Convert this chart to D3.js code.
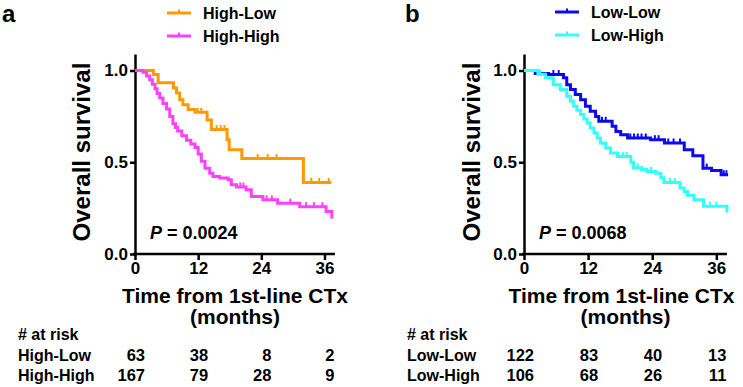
<!DOCTYPE html>
<html lang="en">
<head>
<meta charset="UTF-8">
<title>Overall survival by group</title>
<script src="https://cdn.jsdelivr.net/npm/d3@7"></script>
<style>
    body{ margin:0; background:#fff; }
    svg text{ font-family:"Liberation Sans", Arial, sans-serif; font-weight:bold; fill:#000; }
</style>
</head>
<body>
<svg id="chart" width="743" height="387"></svg>
<script>
// ---- data ----
const xTicks = [0, 12, 24, 36]
const yTicks = [0, 0.5, 1.0]

// panel a
const hlTime = [0, 3.5, 4.4, 7.3, 7.9, 8.5, 9.1, 10.1, 11.4, 13.7, 14.5, 17.5, 17.9, 20.3, 32.0, 37.3]
const hlSurv = [1, 0.978, 0.933, 0.905, 0.878, 0.84, 0.814, 0.787, 0.772, 0.73, 0.678, 0.623, 0.568, 0.52, 0.39, 0.39]
const hlCens = [11.9, 12.6, 15.5, 16.3, 17.0, 23.3, 25.2, 26.9, 33.5, 35.0, 36.8]

const hhTime = [0, 1.5, 2.2, 2.8, 3.3, 3.8, 4.2, 4.7, 5.3, 6.0, 6.6, 7.2, 7.7, 8.1, 8.9, 9.8, 10.6, 11.4, 12.0, 12.6, 13.3, 14.2, 14.8, 16.1, 17.7, 18.3, 19.3, 21.1, 22.1, 24.3, 27.1, 31.3, 36.3, 37.4, 37.6]
const hhSurv = [1, 0.99, 0.97, 0.95, 0.925, 0.9, 0.875, 0.85, 0.82, 0.79, 0.75, 0.71, 0.69, 0.67, 0.645, 0.62, 0.60, 0.58, 0.545, 0.505, 0.468, 0.44, 0.422, 0.414, 0.404, 0.377, 0.365, 0.35, 0.313, 0.295, 0.277, 0.258, 0.231, 0.20, 0.20]
const hhCens = [20.0, 20.6, 25.0, 26.0, 29.5, 32.5, 34.0, 35.6]

// panel b
const llTime = [0, 2.1, 4.6, 7.4, 8.0, 8.7, 9.6, 10.6, 11.5, 12.4, 13.4, 14.0, 16.5, 17.2, 18.1, 19.4, 23.7, 26.3, 30.0, 31.6, 33.5, 35.1, 36.9, 38.2]
const llSurv = [1, 0.984, 0.978, 0.96, 0.923, 0.896, 0.869, 0.84, 0.805, 0.778, 0.75, 0.723, 0.696, 0.668, 0.65, 0.632, 0.623, 0.605, 0.568, 0.535, 0.468, 0.455, 0.432, 0.432]
const llCens = [5.5, 6.5, 14.6, 15.3, 19.9, 20.6, 21.3, 22.0, 22.8, 24.5, 25.2, 27.0, 28.0, 29.2, 34.2, 37.4, 37.9]

const lhTime = [0, 2.6, 4.0, 5.5, 6.8, 8.0, 8.7, 9.3, 9.9, 10.6, 11.2, 11.8, 12.4, 13.1, 13.7, 14.3, 15.3, 16.2, 17.5, 20.0, 20.5, 22.0, 23.0, 24.7, 25.6, 26.2, 29.2, 30.0, 30.6, 31.8, 33.6, 38.0, 38.2]
const lhSurv = [1, 0.98, 0.96, 0.923, 0.896, 0.86, 0.832, 0.805, 0.783, 0.76, 0.736, 0.714, 0.687, 0.66, 0.632, 0.605, 0.578, 0.55, 0.532, 0.50, 0.47, 0.46, 0.45, 0.44, 0.415, 0.39, 0.36, 0.34, 0.32, 0.295, 0.26, 0.235, 0.235]
const lhCens = [3.0, 18.5, 19.2, 21.3, 23.8, 27.3, 28.2, 34.8, 36.0]

const atRiskA = {names: ["High-Low", "High-High"], counts: [[63, 38, 8, 2], [167, 79, 28, 9]]}
const atRiskB = {names: ["Low-Low", "Low-High"], counts: [[122, 83, 40, 13], [106, 68, 26, 11]]}

const svg = d3.select("#chart")

function drawPanel(p){
    const g = svg.append("g")
    const x = d3.scaleLinear().domain([0, 38]).range([p.x0, p.x0 + p.w])
    const y = d3.scaleLinear().domain([0, 1.09]).range([254, 54])

    // panel letter
    g.append("text").attr("x", p.letterX).attr("y", 22).attr("font-size", 24).text(p.letter)

    // legend
    p.series.forEach((s, i) => {
        const ly = p.legendY + i * 23
        g.append("line").attr("x1", p.legendX).attr("x2", p.legendX + 24)
            .attr("y1", ly).attr("y2", ly).attr("stroke", s.color).attr("stroke-width", 3)
        g.append("line").attr("x1", p.legendX + 12).attr("x2", p.legendX + 12)
            .attr("y1", ly - 3.5).attr("y2", ly).attr("stroke", s.color).attr("stroke-width", 2)
        g.append("text").attr("x", p.legendX + 36).attr("y", ly + 5.5)
            .attr("font-size", 16).text(s.name)
    })

    // axes
    const yAxis = g.append("g").attr("transform", `translate(${p.x0},0)`)
        .call(d3.axisLeft(y).tickValues(yTicks).tickFormat(d3.format(".1f")).tickSize(5).tickSizeOuter(0).tickPadding(2))
    const xAxis = g.append("g").attr("transform", "translate(0,254)")
        .call(d3.axisBottom(x).tickValues(xTicks).tickSize(6).tickSizeOuter(0).tickPadding(2))
    ;[yAxis, xAxis].forEach(a => {
        a.selectAll("path,line").attr("stroke", "#000").attr("stroke-width", 2.5)
        a.selectAll("text").attr("font-size", 17).attr("fill", "#000")
            .style("font-family", '"Liberation Sans", Arial, sans-serif').style("font-weight", "bold")
    })
    xAxis.select(".domain").attr("d", `M${p.x0 - 2},0H${p.x0 + p.w}`)

    // axis titles
    g.append("text").attr("transform", `translate(${p.yTitleX},152) rotate(-90)`)
        .attr("text-anchor", "middle").attr("font-size", 24).text("Overall survival")
    const cx = p.x0 + p.w / 2
    g.append("text").attr("x", cx + p.titleShift).attr("y", 303).attr("text-anchor", "middle")
        .attr("font-size", 21).text("Time from 1st-line CTx")
    g.append("text").attr("x", cx).attr("y", 324).attr("text-anchor", "middle")
        .attr("font-size", 21).text("(months)")

    // curves
    const line = d3.line().x(d => x(d[0])).y(d => y(d[1])).curve(d3.curveStepAfter)
    p.series.forEach(s => {
        const pts = s.time.map((t, i) => [t, s.surv[i]])
        g.append("path").attr("d", line(pts)).attr("fill", "none")
            .attr("stroke", s.color).attr("stroke-width", 3)
        const survAt = t => { let v = 1; s.time.forEach((tt, i) => { if (tt <= t) v = s.surv[i] }); return v }
        g.selectAll(null).data(s.cens).enter().append("line")
            .attr("x1", d => x(d)).attr("x2", d => x(d))
            .attr("y1", d => y(survAt(d)) - 4.5).attr("y2", d => y(survAt(d)))
            .attr("stroke", s.color).attr("stroke-width", 2)
    })

    // p value
    const pt = g.append("text").attr("x", p.x0 + 15).attr("y", 239).attr("font-size", 18)
    pt.append("tspan").attr("font-style", "italic").text("P")
    pt.append("tspan").text(" = " + p.pval)

    // number at risk
    g.append("text").attr("x", p.riskX).attr("y", 340).attr("font-size", 16).text("# at risk")
    p.risk.names.forEach((n, i) => {
        const ry = 361 + i * 20
        g.append("text").attr("x", p.riskX).attr("y", ry).attr("font-size", 16).text(n)
        g.selectAll(null).data(p.risk.counts[i]).enter().append("text")
            .attr("x", (d, j) => x(xTicks[j]) + 10).attr("y", ry)
            .attr("text-anchor", "end").attr("font-size", 16.5).text(d => d)
    })
}

drawPanel({
    letter: "a", letterX: 2, x0: 135, w: 200, yTitleX: 90, titleShift: 0,
    legendX: 167, legendY: 13, riskX: 18, pval: "0.0024", risk: atRiskA,
    series: [
        {name: "High-Low", color: "#FF9900", time: hlTime, surv: hlSurv, cens: hlCens},
        {name: "High-High", color: "#FF40FF", time: hhTime, surv: hhSurv, cens: hhCens}
    ]
})
drawPanel({
    letter: "b", letterX: 405, x0: 524, w: 203, yTitleX: 480, titleShift: -4,
    legendX: 555, legendY: 12, riskX: 407, pval: "0.0068", risk: atRiskB,
    series: [
        {name: "Low-Low", color: "#0A0AF0", time: llTime, surv: llSurv, cens: llCens},
        {name: "Low-High", color: "#33FFFF", time: lhTime, surv: lhSurv, cens: lhCens}
    ]
})
</script>
</body>
</html>
